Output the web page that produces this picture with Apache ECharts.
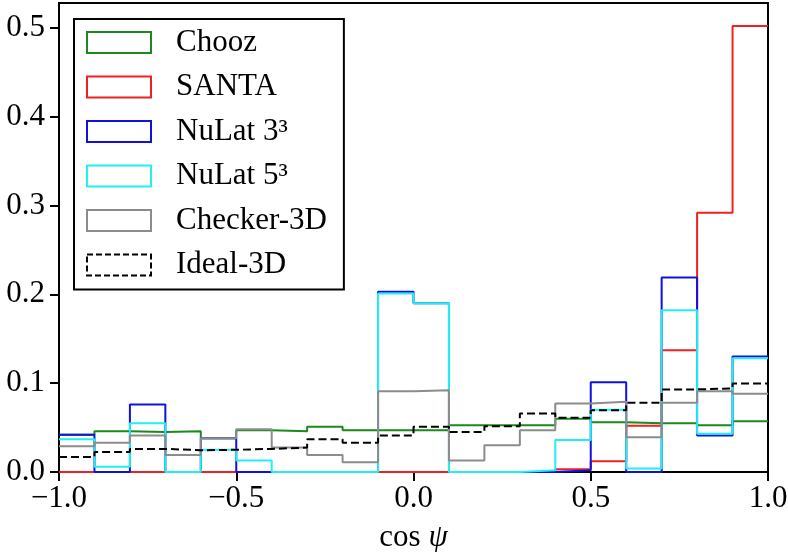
<!DOCTYPE html>
<html>
<head>
<meta charset="utf-8">
<script src="https://cdn.jsdelivr.net/npm/echarts@6/dist/echarts.min.js"></script>
<style>
  html, body { margin: 0; padding: 0; background: #fff; }
  #chart { width: 788px; height: 552px; }
</style>
</head>
<body>
<div id="chart"></div>
<script>
// Bin edges of the cos(psi) histogram (20 bins on [-1, 1])
const binEdges = [-1.0, -0.9, -0.8, -0.7, -0.6, -0.5, -0.4, -0.3, -0.2, -0.1,
                  0.0, 0.1, 0.2, 0.3, 0.4, 0.5, 0.6, 0.7, 0.8, 0.9, 1.0];

// Normalised counts per bin for each detector
const chooz   = [0.042, 0.046, 0.045, 0.046, 0.038, 0.047, 0.046, 0.051, 0.047, 0.047,
                 0.047, 0.0525, 0.0525, 0.0525, 0.060, 0.056, 0.055, 0.055, 0.0525, 0.057];
const santa   = [0, 0, 0, 0, 0, 0, 0, 0, 0, 0,
                 0, 0, 0, 0, 0.003, 0.012, 0.052, 0.137, 0.292, 0.502];
const nulat3  = [0.042, 0, 0.076, 0, 0.038, 0, 0, 0, 0, 0.203,
                 0.190, 0, 0, 0, 0.002, 0.101, 0, 0.219, 0.041, 0.130];
const nulat5  = [0.037, 0.006, 0.055, 0, 0.025, 0.013, 0, 0, 0, 0.201,
                 0.190, 0, 0, 0.002, 0.036, 0.070, 0.004, 0.182, 0.043, 0.128];
const checker = [0.029, 0.033, 0.041, 0.019, 0.038, 0.048, 0.0275, 0.019, 0.011, 0.091,
                 0.092, 0.013, 0.030, 0.047, 0.077, 0.079, 0.039, 0.078, 0.091, 0.088];
const ideal   = [0.017, 0.0225, 0.026, 0.0245, 0.025, 0.026, 0.0275, 0.037, 0.033, 0.041,
                 0.051, 0.045, 0.0515, 0.066, 0.061, 0.0695, 0.078, 0.093, 0.094, 0.0997];

const yTicks = [0.0, 0.1, 0.2, 0.3, 0.4, 0.5];
const xTicks = [-1.0, -0.5, 0.0, 0.5, 1.0];

const FONT = '"Liberation Serif", "DejaVu Serif", serif';
const FS = 31;

// Outline of a step histogram; the outer verticals sit on the frame
function stepOutline(values) {
  const pts = [];
  for (let i = 0; i < values.length; i++) pts.push([binEdges[i], values[i]]);
  pts.push([binEdges[binEdges.length - 1], values[values.length - 1]]);
  return pts;
}

const seriesDefs = [
  { name: 'Chooz',      values: chooz,   color: '#1a8a1a', type: 'solid' },
  { name: 'SANTA',      values: santa,   color: '#f02020', type: 'solid' },
  { name: 'NuLat 3³',   values: nulat3,  color: '#1010e0', type: 'solid' },
  { name: 'NuLat 5³',   values: nulat5,  color: '#20f0f0', type: 'solid' },
  { name: 'Checker-3D', values: checker, color: '#8c8c8c', type: 'solid' },
  { name: 'Ideal-3D',   values: ideal,   color: '#000000', type: [8, 4] }
];

const fmt = v => (v < 0 ? '\u2212' : '') + Math.abs(v).toFixed(1);

const chart = echarts.init(document.getElementById('chart'), null, { renderer: 'canvas' });

chart.setOption({
  animation: false,
  backgroundColor: '#ffffff',
  grid: {
    left: 59, right: 20, top: 3, bottom: 80,
    outerBoundsMode: 'none',
    containLabel: false,
    show: true, borderColor: '#000', borderWidth: 2, backgroundColor: 'transparent'
  },
  xAxis: {
    type: 'value', min: -1.0, max: 1.0, interval: 0.5,
    name: '{a|cos }{b|ψ}',
    nameLocation: 'middle', nameGap: 50,
    nameTextStyle: {
      rich: {
        a: { fontFamily: FONT, fontSize: FS, color: '#000' },
        b: { fontFamily: FONT, fontSize: FS, fontStyle: 'italic', color: '#000' }
      }
    },
    axisLine: { show: true, onZero: false, lineStyle: { color: '#000', width: 2 } },
    axisTick: { show: true, length: 9, lineStyle: { color: '#000', width: 2 } },
    axisLabel: {
      margin: 11, color: '#000', fontFamily: FONT, fontSize: FS,
      formatter: v => xTicks.some(t => Math.abs(t - v) < 1e-9) ? fmt(v) : ''
    },
    splitLine: { show: false }
  },
  yAxis: {
    type: 'value', min: 0, max: 0.528, interval: 0.1,
    axisLine: { show: true, onZero: false, lineStyle: { color: '#000', width: 2 } },
    axisTick: { show: true, length: 9, lineStyle: { color: '#000', width: 2 } },
    axisLabel: {
      margin: 14, color: '#000', fontFamily: FONT, fontSize: FS,
      showMaxLabel: false,
      formatter: v => yTicks.some(t => Math.abs(t - v) < 1e-9) ? v.toFixed(1) : ''
    },
    splitLine: { show: false }
  },
  legend: {
    orient: 'vertical',
    left: 74, top: 19,
    padding: [8, 17, 9, 12],
    borderColor: '#000', borderWidth: 2, borderRadius: 0,
    backgroundColor: '#fff',
    itemWidth: 64, itemHeight: 21, itemGap: 13.5,
    textStyle: { fontFamily: FONT, fontSize: FS, color: '#000', padding: [0, 0, 0, 20] },
    data: seriesDefs.map(d => ({
      name: d.name,
      icon: 'rect',
      itemStyle: {
        color: 'transparent', borderColor: d.color, borderWidth: 2,
        borderType: d.type === 'solid' ? 'solid' : [6, 3]
      }
    }))
  },
  series: seriesDefs.map(d => ({
    name: d.name,
    type: 'line',
    step: 'end',
    showSymbol: false,
    symbol: 'none',
    clip: true,
    lineStyle: { color: d.color, width: 2, type: d.type },
    itemStyle: { color: d.color },
    data: stepOutline(d.values)
  }))
});
</script>
</body>
</html>
